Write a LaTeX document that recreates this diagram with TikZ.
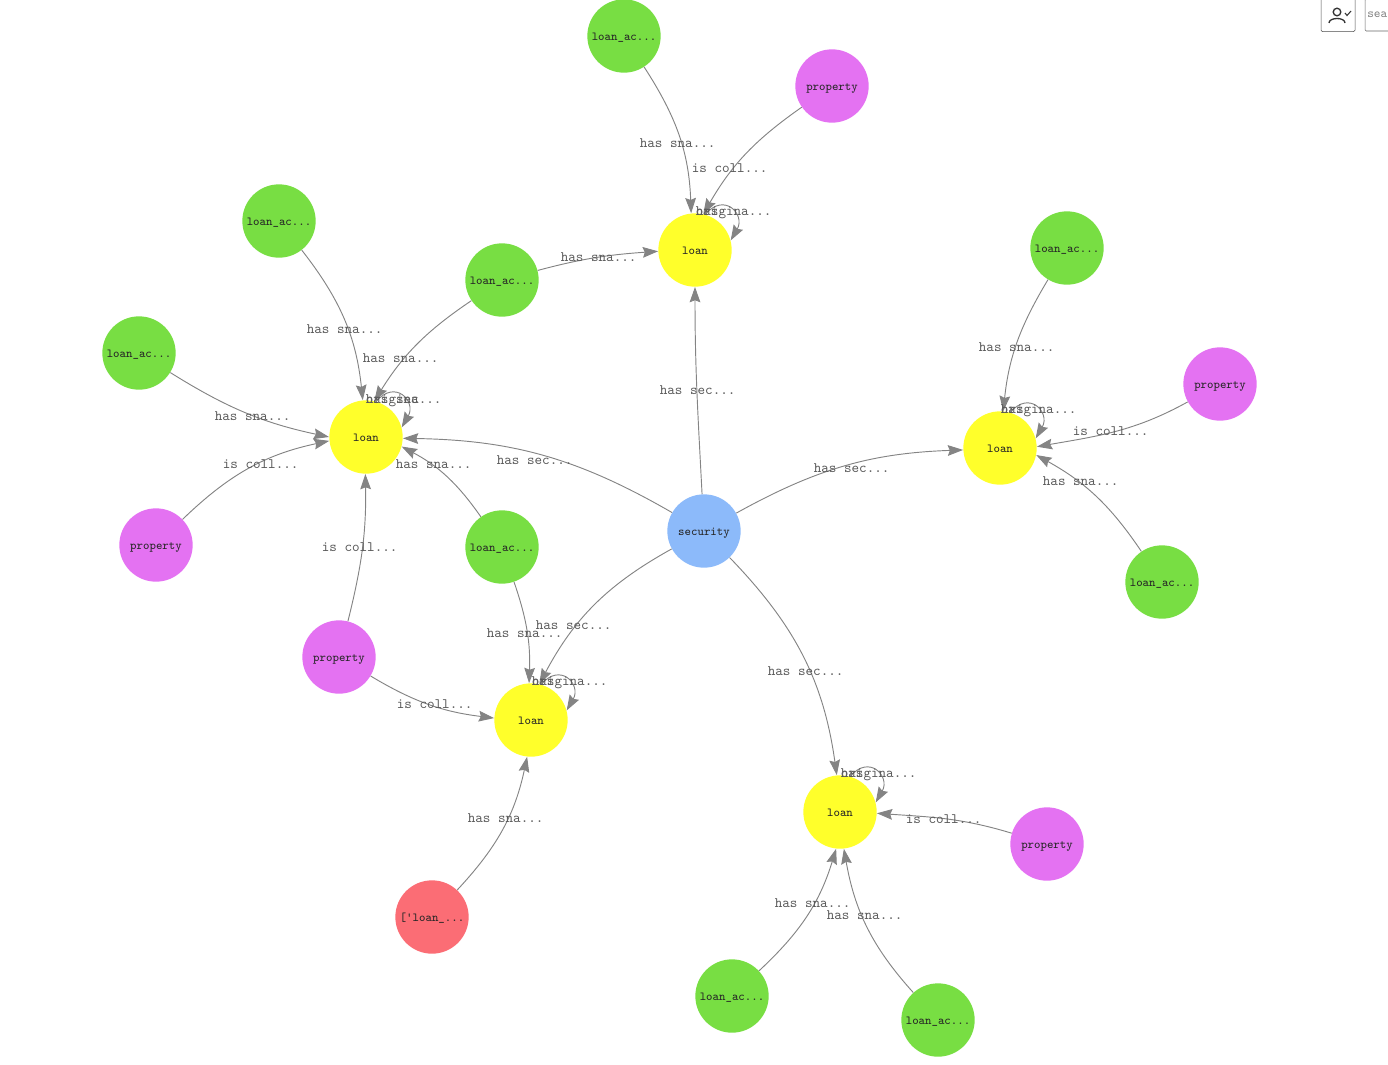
\documentclass[tikz,border=0pt]{standalone}
\usetikzlibrary{arrows.meta}
\definecolor{cgreen}{HTML}{78DE43}
\definecolor{cpink}{HTML}{E472F2}
\definecolor{cyellow}{HTML}{FFFF2B}
\definecolor{cblue}{HTML}{8CBAFA}
\definecolor{cred}{HTML}{FB6D75}
\definecolor{cedge}{HTML}{848484}
\newcommand{\lblsna}{has sna...}
\newcommand{\lblcoll}{is coll...}
\newcommand{\lblsec}{has sec...}
\newcommand{\lblorig}{origina...}
\tikzset{
  vertex/.style={circle, minimum size=55pt, inner sep=0pt, font=\ttfamily\fontsize{9.2}{10}\selectfont, text=black!85, text height=7.8pt, text depth=1.5pt},
  link/.style={cedge, line width=0.7pt, -{Stealth[length=11.5pt, width=8pt, inset=1.5pt]}},
  edgelabel/.style={font=\ttfamily\fontsize{10.8}{11}\selectfont, text=black!65, inner sep=0pt, text height=6.5pt, text depth=1.5pt, yshift=-0.75pt, xshift=0.5pt},
}
\begin{document}
\begin{tikzpicture}[x=0.75pt, y=-0.75pt]
\useasboundingbox (0,0) rectangle (1388,1064);
%% ------------------------------------------------------------------ nodes
\node[vertex, fill=cblue] (security) at (704,531) {security};
\node[vertex, fill=cyellow] (loanT) at (695,250) {loan};
\node[vertex, fill=cyellow] (loanL) at (366,437) {loan};
\node[vertex, fill=cyellow] (loanR) at (1000,448) {loan};
\node[vertex, fill=cyellow] (loanC) at (531,720) {loan};
\node[vertex, fill=cyellow] (loanB) at (840,812) {loan};
\node[vertex, fill=cgreen] (acT) at (624,36) {loan\_ac...};
\node[vertex, fill=cgreen] (acM) at (502,280) {loan\_ac...};
\node[vertex, fill=cgreen] (acLa) at (279,221) {loan\_ac...};
\node[vertex, fill=cgreen] (acLb) at (139,353) {loan\_ac...};
\node[vertex, fill=cgreen] (acC) at (502,547) {loan\_ac...};
\node[vertex, fill=cgreen] (acRa) at (1067,248) {loan\_ac...};
\node[vertex, fill=cgreen] (acRb) at (1162,582) {loan\_ac...};
\node[vertex, fill=cgreen] (acBa) at (732,996) {loan\_ac...};
\node[vertex, fill=cgreen] (acBb) at (938,1020) {loan\_ac...};
\node[vertex, fill=cpink] (propT) at (832,86) {property};
\node[vertex, fill=cpink] (propL) at (156,545) {property};
\node[vertex, fill=cpink] (propC) at (339,657) {property};
\node[vertex, fill=cpink] (propR) at (1220,384) {property};
\node[vertex, fill=cpink] (propB) at (1047,844) {property};
\node[vertex, fill=cred] (list) at (432,917) {['loan\_...};
%% ------------------------------------------------------------------ edges
%% from / to / leaving anchor / arriving anchor / arriving bearing / label
\foreach \a/\b/\o/\i/\j/\lx/\ly/\txt in {
  acT/loanT/-57/96/92/677/143/\lblsna,
  propT/loanT/215/77/60/729/168/\lblcoll,
  acM/loanT/15/182/184/598/257/\lblsna,
  security/loanT/93/-90/-90/697/390/\lblsec,
  acLa/loanL/-52/95/96/344/329/\lblsna,
  acM/loanL/214/77/58/400/358/\lblsna,
  acLb/loanL/-32/180/168/252/416/\lblsna,
  propL/loanL/44/186/192/260/464/\lblcoll,
  acC/loanL/125/-15/-28/433/464/\lblsna,
  propC/loanL/76/-91/-89/359/547/\lblcoll,
  security/loanL/150/-2/-1/534/460/\lblsec,
  security/loanR/29/183/182/851/468/\lblsec,
  acRa/loanR/-121/85/84/1016/347/\lblsna,
  propR/loanR/209/2/10/1110/431/\lblcoll,
  acRb/loanR/124/-11/-29/1080/481/\lblsna,
  security/loanC/209/77/62/573/625/\lblsec,
  acC/loanC/-71/93/88/524/633/\lblsna,
  propC/loanC/-31/177/173/434/704/\lblcoll,
  list/loanC/47/-96/-102/505/818/\lblsna,
  security/loanB/-46/95/98/805/671/\lblsec,
  propB/loanB/163/-2/-4/943/819/\lblcoll,
  acBa/loanB/43/-96/-107/812/903/\lblsna,
  acBb/loanB/132/-84/-80/864/915/\lblsna} {
  \draw[link] (\a.\o) to[out=\o, in=\j] (\b.\i);
  \node[edgelabel] (\a-\b) at (\lx,\ly) {\txt};
}
%% self loops, two labels on top of each other
\foreach \l/\lx/\ly/\txt in {loanT/733/211/has, loanL/403/399/has sec, loanR/1038/409/has, loanC/569/681/has, loanB/878/773/has} {
  \draw[link] (\l.74) to[out=50, in=60, looseness=2.1] (\l.15);
  \node[edgelabel] (\l-self) at (\lx,\ly) {\lblorig};
  \node[edgelabel, anchor=west, yshift=0.75pt, xshift=-0.5pt] (\l-other) at (\l-self.west) {\txt};
}
%% toolbar at the corner
\node[draw=black!70, rounded corners=1pt, minimum width=25.5pt, minimum height=25pt, inner sep=0pt] (userbtn) at (1338,15) {};
\draw[black!80, line width=1pt] (1337,12) circle (3.8);
\draw[black!80, line width=1pt] (1329,23) .. controls (1329,17) and (1345,17) .. (1345,23);
\draw[black!80, line width=0.8pt] (1345,13) -- (1347,15.5) -- (1351,11);
\path[draw=black!60, rounded corners=1pt] (1392,-1) -- (1365,-1) -- (1365,31) -- (1392,31);
\node[font=\ttfamily\fontsize{9.5}{10}\selectfont, text=black!50, anchor=west, inner sep=0pt] (searchbox) at (1367,15) {sea};
\end{tikzpicture}
\end{document}
